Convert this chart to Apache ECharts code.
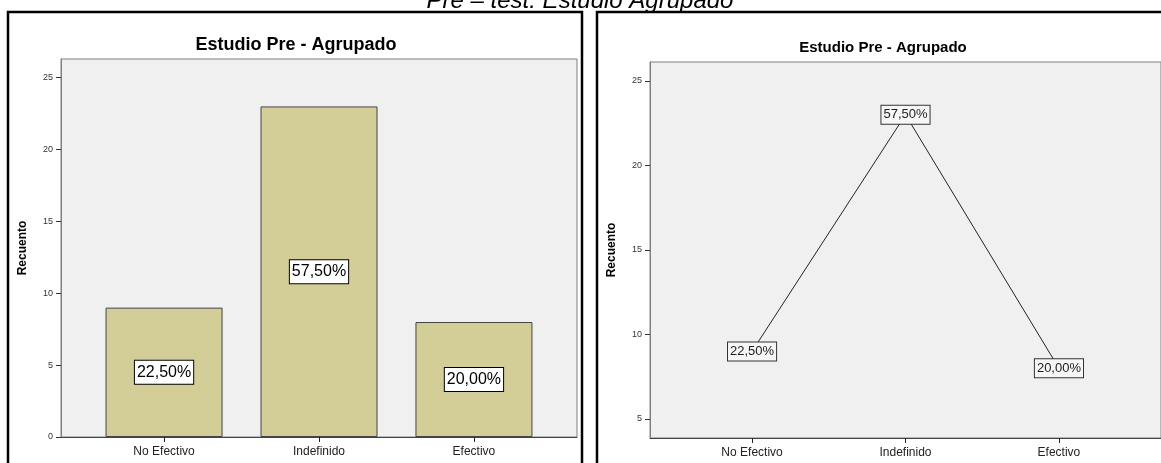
<!DOCTYPE html>
<html>
<head>
<meta charset="utf-8">
<script src="https://cdn.jsdelivr.net/npm/echarts@6/dist/echarts.min.js"></script>
<style>html,body{margin:0;padding:0;background:#fff}#c{width:1161px;height:463px}</style>
</head>
<body>
<div id="c"></div>
<script>
const categories = ['No Efectivo', 'Indefinido', 'Efectivo'];
const counts = [9, 23, 8];
const percentLabels = ['22,50%', '57,50%', '20,00%'];
const leftYTicks = [0, 5, 10, 15, 20, 25];
const rightYTicks = [5, 10, 15, 20, 25];
const catIdx = [0, 1, 2];
const chartTitle = 'Estudio Pre - Agrupado';
const pageTitle = 'Pre – test. Estudio Agrupado';
const yName = 'Recuento';

const FONT = 'Arial, "Liberation Sans", sans-serif';
const chart = echarts.init(document.getElementById('c'), null, {renderer: 'canvas'});

function xAxisFor(gi) {
  return {
    type: 'value', gridIndex: gi, min: -0.665, max: 2.665,
    splitLine: {show: false},
    axisLine: {show: true, onZero: false, lineStyle: {color: '#444', width: 1}},
    axisTick: {show: true, customValues: catIdx, length: 5, lineStyle: {color: '#222'}},
    axisLabel: {customValues: catIdx, formatter: v => categories[Math.round(v)], fontFamily: FONT, fontSize: 12, color: '#222', margin: 9}
  };
}
function yAxisFor(gi, min, max, ticks) {
  return {
    type: 'value', gridIndex: gi, min: min, max: max,
    name: yName, nameLocation: 'middle', nameRotate: 90, nameGap: 32,
    nameTextStyle: {fontFamily: FONT, fontSize: 12, fontWeight: 'bold', color: '#000'},
    splitLine: {show: false},
    axisLine: {show: true, onZero: false, lineStyle: {color: '#808080', width: 1}},
    axisTick: {show: true, customValues: ticks, length: 5, lineStyle: {color: '#333'}},
    axisLabel: {customValues: ticks, fontFamily: FONT, fontSize: 9, color: '#333', margin: 8}
  };
}

chart.setOption({
  animation: false,
  backgroundColor: '#fff',
  grid: [
    {left: 61, top: 59, width: 516, height: 378, show: true, backgroundColor: '#f0f0f0', borderColor: '#808080', borderWidth: 1},
    {left: 650, top: 62, width: 515, height: 376, show: true, backgroundColor: '#f0f0f0', borderColor: '#808080', borderWidth: 1}
  ],
  xAxis: [xAxisFor(0), xAxisFor(1)],
  yAxis: [yAxisFor(0, 0, 26.3, leftYTicks), yAxisFor(1, 3.876, 26.12, rightYTicks)],
  graphic: [
    {type: 'rect', shape: {x: 8, y: 12, width: 574, height: 520}, style: {fill: 'none', stroke: '#000', lineWidth: 2.5}, z: 100},
    {type: 'rect', shape: {x: 597, y: 12, width: 620, height: 520}, style: {fill: 'none', stroke: '#000', lineWidth: 2.5}, z: 100},
    {type: 'text', x: 580, y: 13, style: {text: pageTitle, font: 'italic 24px ' + FONT, fill: '#000', textAlign: 'center', textVerticalAlign: 'bottom'}, z: 100},
    {type: 'text', x: 296, y: 45, style: {text: chartTitle, font: 'bold 18px ' + FONT, fill: '#000', textAlign: 'center', textVerticalAlign: 'middle'}, z: 100},
    {type: 'text', x: 883, y: 48, style: {text: chartTitle, font: 'bold 15px ' + FONT, fill: '#000', textAlign: 'center', textVerticalAlign: 'middle'}, z: 100}
  ],
  series: [
    {
      type: 'bar', xAxisIndex: 0, yAxisIndex: 0,
      data: counts.map((v, i) => [i, v]),
      barWidth: 117,
      itemStyle: {color: '#d3ce97', borderColor: '#444', borderWidth: 1},
      label: {
        show: true, position: 'inside',
        formatter: p => percentLabels[p.dataIndex],
        fontFamily: FONT, fontSize: 16, color: '#000',
        backgroundColor: '#fff', borderColor: '#000', borderWidth: 1, padding: [4, 2, 3, 2]
      }
    },
    {
      type: 'line', xAxisIndex: 1, yAxisIndex: 1,
      data: counts.map((v, i) => [i, v]),
      symbol: 'circle', symbolSize: 1, showSymbol: true,
      itemStyle: {color: '#222'},
      lineStyle: {color: '#222', width: 1},
      label: {
        show: true, position: 'inside',
        formatter: p => percentLabels[p.dataIndex],
        fontFamily: FONT, fontSize: 13, color: '#222',
        backgroundColor: '#f6f6f6', borderColor: '#333', borderWidth: 1, padding: [3, 2, 2, 2]
      }
    }
  ]
});
</script>
</body>
</html>
